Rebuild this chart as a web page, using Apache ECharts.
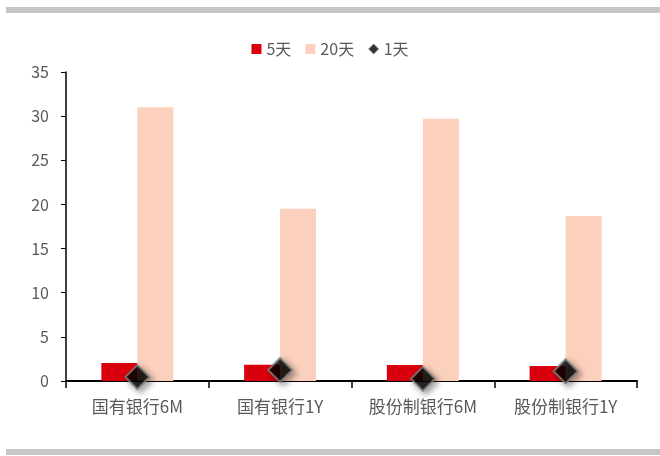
<!DOCTYPE html>
<html>
<head>
<meta charset="utf-8">
<script src="https://cdn.jsdelivr.net/npm/echarts@6/dist/echarts.min.js"></script>
<style>
  html, body { margin: 0; padding: 0; background: #fff; }
  #chart { width: 660px; height: 456px; }
</style>
</head>
<body>
<div id="chart"></div>
<script>
const categories = ['国有银行6M', '国有银行1Y', '股份制银行6M', '股份制银行1Y'];
const day5 = [2.05, 1.85, 1.8, 1.7];
const day20 = [31.0, 19.5, 29.7, 18.7];
const day1 = [0.45, 1.25, 0.25, 1.1];
const yTicks = { min: 0, max: 35, interval: 5 };

const font = '"Noto Sans CJK SC", "Noto Sans", sans-serif';

const chart = echarts.init(document.getElementById('chart'));
chart.setOption({
  animation: false,
  textStyle: { fontFamily: font },
  graphic: [
    { type: 'rect', shape: { x: 6, y: 7, width: 654, height: 6 }, style: { fill: '#c6c6c6' } },
    { type: 'rect', shape: { x: 6, y: 449, width: 654, height: 6 }, style: { fill: '#c6c6c6' } }
  ],
  legend: {
    top: 36,
    left: 'center',
    itemWidth: 10,
    itemHeight: 10,
    itemGap: 14,
    textStyle: { color: '#595959', fontSize: 16, fontFamily: font },
    data: [
      { name: '5天', icon: 'rect' },
      { name: '20天', icon: 'rect' },
      { name: '1天', icon: 'diamond', itemStyle: { borderWidth: 1 } }
    ]
  },
  grid: { left: 66, right: 23, top: 72, bottom: 75 },
  xAxis: {
    type: 'category',
    data: categories,
    axisLine: { lineStyle: { color: '#000', width: 2 } },
    axisTick: { show: true, length: 7, lineStyle: { color: '#000', width: 1.5 } },
    axisLabel: { color: '#595959', fontSize: 17, margin: 17, fontFamily: font }
  },
  yAxis: {
    type: 'value',
    min: yTicks.min,
    max: yTicks.max,
    interval: yTicks.interval,
    splitLine: { show: false },
    axisLine: { show: true, lineStyle: { color: '#000', width: 1.5 } },
    axisTick: { show: true, length: 5, lineStyle: { color: '#000' } },
    axisLabel: { color: '#595959', fontSize: 16, margin: 17, fontFamily: font }
  },
  series: [
    {
      name: '5天',
      type: 'bar',
      data: day5,
      barWidth: 36,
      barGap: '0%',
      itemStyle: { color: '#d9000d' }
    },
    {
      name: '20天',
      type: 'bar',
      data: day20,
      barWidth: 36,
      barGap: '0%',
      itemStyle: { color: '#fbd0bc' }
    },
    {
      name: '1天',
      type: 'scatter',
      data: day1,
      symbol: 'diamond',
      symbolSize: [24, 24],
      z: 5,
      itemStyle: {
        color: '#000',
        borderColor: '#7f7f7f',
        borderWidth: 2,
        shadowBlur: 6,
        shadowColor: 'rgba(0,0,0,0.45)',
        shadowOffsetX: 3,
        shadowOffsetY: 3
      }
    }
  ]
});
</script>
</body>
</html>
